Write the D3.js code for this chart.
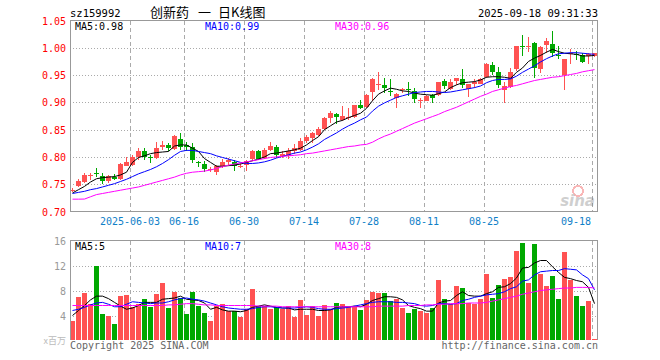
<!DOCTYPE html>
<html>
<head>
<meta charset="utf-8">
<script src="https://cdn.jsdelivr.net/npm/d3@7"></script>
<style>
  body { margin: 0; background: #fff; }
  svg { display: block; }
</style>
</head>
<body>
<div id="chart"></div>
<script>
// daily candles, 2025-05-19 .. 2025-09-18 (88 trading days)
var open  = [.739,.746,.755,.765,.770,.765,.755,.764,.760,.784,.786,.800,.811,.800,.798,.818,.822,.816,.833,.821,
             .818,.790,.787,.777,.773,.783,.791,.791,.783,.784,.795,.810,.798,.813,.818,.803,.801,.810,.813,.828,
             .833,.841,.851,.872,.879,.868,.871,.873,.895,.8915,.920,.933,.931,.921,.909,.922,.924,.920,.904,.904,
             .9137,.9125,.9394,.9247,.9406,.943,.9235,.933,.9345,.947,.969,.955,.9223,.927,.960,1.004,1.002,1.009,.9614,1.0043,
             1.0067,.987,.9504,.990,.989,.986,.984,.985];
var high  = [.743,.760,.771,.770,.780,.770,.767,.769,.789,.800,.803,.816,.816,.804,.828,.830,.825,.840,.843,.828,
             .825,.792,.792,.781,.786,.796,.7985,.794,.789,.794,.812,.812,.817,.827,.822,.810,.816,.824,.835,.840,
             .846,.854,.873,.884,.8805,.894,.889,.896,.905,.915,.9455,.955,.9455,.943,.918,.927,.937,.9265,.9076,.914,
             .916,.938,.943,.942,.9455,.9614,.9345,.943,.945,.9725,.974,.964,.937,.9627,1.003,1.0226,1.019,1.0104,1.003,1.018,
             1.030,1.004,.9798,.997,.9934,.990,.990,.991];
var low   = [.736,.744,.753,.758,.764,.751,.753,.757,.757,.783,.784,.795,.794,.789,.796,.812,.810,.813,.813,.810,
             .789,.781,.772,.773,.767,.779,.785,.775,.779,.775,.793,.794,.796,.811,.7985,.798,.796,.806,.811,.825,
             .8255,.838,.849,.863,.860,.866,.868,.871,.887,.889,.9025,.9234,.917,.911,.890,.918,.911,.899,.889,.902,
             .898,.911,.925,.922,.931,.926,.909,.926,.933,.944,.9504,.927,.898,.926,.9566,.9847,.992,.944,.953,.991,
             .9822,.980,.9235,.970,.977,.9718,.971,.984];
var close = [.740,.756,.767,.766,.769,.755,.765,.760,.787,.791,.800,.811,.800,.799,.817,.822,.816,.839,.819,.818,
             .794,.789,.777,.778,.784,.791,.795,.783,.784,.792,.810,.796,.813,.8205,.803,.806,.810,.816,.830,.836,
             .843,.852,.872,.8805,.874,.8756,.873,.895,.890,.9135,.943,.934,.925,.920,.916,.924,.923,.905,.905,.9125,
             .9076,.937,.9296,.938,.9455,.932,.933,.937,.943,.971,.9566,.932,.9296,.955,1.003,1.002,1.004,.9627,1.0018,1.0116,
             .9908,.986,.9798,.991,.988,.9724,.988,.990];
var ma5   = [.734,.740,.746,.754,.760,.762,.763,.764,.767,.772,.790,.799,.802,.806,.808,.809,.810,.820,.822,.822,
             .816,.810,.797,.790,.783,.783,.784,.785,.787,.790,.793,.796,.800,.806,.807,.809,.811,.813,.816,.822,
             .830,.837,.850,.857,.864,.867,.872,.876,.880,.889,.903,.915,.921,.926,.924,.921,.920,.917,.915,.914,
             .913,.916,.919,.927,.932,.936,.937,.938,.941,.946,.947,.947,.946,.944,.955,.963,.975,.981,.986,.992,
             .997,.993,.990,.989,.988,.985,.985,.986];
var ma10  = [.733,.735,.737,.740,.742,.745,.748,.751,.755,.759,.764,.769,.773,.777,.782,.788,.795,.803,.810,.812,
             .812,.810,.808,.806,.802,.799,.796,.793,.790,.788,.788,.789,.791,.794,.798,.801,.804,.807,.809,.813,
             .818,.824,.832,.838,.844,.851,.857,.862,.868,.873,.884,.893,.899,.904,.909,.912,.915,.918,.919,.920,
             .920,.919,.918,.919,.921,.923,.925,.927,.930,.936,.940,.942,.942,.943,.948,.955,.961,.967,.974,.980,
             .985,.989,.990,.991,.991,.990,.989,.988];
var ma30  = [.7226,.7226,.7228,.727,.731,.733,.735,.737,.739,.741,.743,.745,.748,.751,.754,.757,.760,.763,.767,.770,
             .772,.773,.774,.776,.779,.782,.785,.787,.789,.791,.793,.795,.797,.799,.800,.801,.802,.803,.804,.806,
             .807,.809,.811,.813,.815,.817,.819,.820,.822,.823,.827,.833,.838,.842,.847,.852,.857,.862,.866,.870,
             .874,.878,.883,.887,.891,.896,.901,.906,.911,.915,.920,.923,.926,.929,.931,.934,.937,.940,.942,.944,
             .946,.947,.949,.951,.953,.956,.958,.960];

// volume, millions of shares
var volume = [3.2,6.9,7.6,5.9,11.9,4.2,4.0,2.6,7.1,7.3,5.3,5.9,6.6,5.3,7.4,9.2,5.2,7.7,6.8,4.3,
              7.7,5.5,4.4,3.1,5.6,5.8,4.7,4.8,3.8,5.1,8.3,5.6,5.6,5.0,5.3,5.0,5.6,3.7,6.5,4.1,
              5.6,4.0,5.7,5.0,6.0,5.8,5.4,5.4,4.9,6.5,7.8,7.6,7.6,6.3,6.6,5.2,4.35,5.0,4.8,4.35,
              5.2,9.7,6.6,5.8,8.7,8.4,6.0,5.9,6.6,10.6,6.8,8.9,9.8,10.15,14.3,15.6,9.2,15.5,10.6,8.7,
              10.3,6.6,14.2,9.7,7.1,5.5,6.4,0.3];
var vma5  = [4.0,4.8,5.6,6.5,7.1,7.1,6.7,6.1,5.5,5.0,5.2,5.6,6.1,6.1,6.1,6.6,6.7,6.8,7.1,6.6,
             6.5,6.4,6.0,5.0,5.3,4.9,4.7,4.7,4.6,4.8,5.3,5.5,5.7,5.5,5.3,5.2,5.2,4.9,5.0,5.0,
             5.0,4.8,4.8,4.9,5.3,5.4,5.4,5.5,5.4,5.8,6.4,6.7,7.0,7.0,6.9,6.5,5.6,5.3,5.1,4.7,
             4.7,6.0,6.3,6.4,7.2,7.8,7.2,7.1,7.1,7.5,7.8,8.5,8.6,9.1,10.0,11.6,11.7,12.4,12.8,12.8,
             11.8,10.9,10.1,9.9,9.6,9.4,8.5,5.9];
var vma10 = [4.8,5.0,5.3,5.7,6.0,6.1,5.8,5.4,5.4,5.8,6.2,6.1,6.0,5.9,6.0,6.0,6.2,6.5,6.7,6.8,
             6.6,6.5,6.3,6.0,5.7,5.4,5.2,5.1,5.0,5.0,5.1,5.3,5.4,5.4,5.3,5.2,5.2,5.2,5.3,5.4,
             5.3,5.1,5.0,5.0,5.1,5.2,5.3,5.5,5.7,5.9,6.1,6.2,6.2,6.2,6.1,6.1,6.0,5.9,5.6,5.5,
             5.6,5.9,5.9,5.8,5.9,6.4,6.6,6.9,7.1,7.3,7.4,7.5,7.8,8.3,8.6,9.5,9.7,10.5,11.0,11.1,
             11.2,11.2,11.5,11.4,11.3,10.5,9.9,8.1];
var vma30 = [5.6,5.6,5.6,5.6,5.6,5.6,5.6,5.6,5.6,5.6,5.6,5.6,5.6,5.6,5.6,5.6,5.7,5.7,5.8,5.9,
             5.9,5.8,5.7,5.7,5.6,5.6,5.6,5.6,5.6,5.6,5.6,5.5,5.5,5.5,5.5,5.4,5.4,5.4,5.4,5.4,
             5.4,5.4,5.4,5.4,5.4,5.4,5.4,5.4,5.4,5.4,5.4,5.5,5.5,5.5,5.5,5.5,5.6,5.6,5.6,5.7,
             5.7,5.8,5.8,5.9,5.9,5.9,6.0,6.0,6.0,6.1,6.3,6.5,6.7,6.9,7.1,7.4,7.6,7.8,8.0,8.1,
             8.2,8.3,8.4,8.4,8.5,8.5,8.5,8.4];

var tickIdx    = [10, 19, 29, 39, 49, 59, 69, 87];
var tickLabels = ["2025-06-03", "06-16", "06-30", "07-14", "07-28", "08-11", "08-25", "09-18"];
var priceTicks = [0.70, 0.75, 0.80, 0.85, 0.90, 0.95, 1.00, 1.05];
var volTicks   = [4, 8, 12, 16];
var priceMaLabels = ["MA5:0.98", "MA10:0.99", "MA30:0.96"];
var volMaLabels   = ["MA5:5", "MA10:7", "MA30:8"];

var W = 660, H = 360;
var L = 70, R = 598;
var mono = "'DejaVu Sans Mono', monospace";
var upC = "#ff5252", downC = "#00a800", gridC = "#aaa";
var maColors = ["#000", "#0000ff", "#ff00ff"];

var svg = d3.select("#chart").append("svg")
  .attr("width", W).attr("height", H)
  .attr("shape-rendering", "crispEdges");

var x = d3.scaleBand().domain(d3.range(close.length)).range([L, R]).padding(0);
var y = d3.scaleLinear().domain([0.70, 1.05]).range([211.5, 20.5]);
var yv = d3.scaleLinear().domain([0, 16]).range([340.5, 240.5]);
var px = function(v) { return Math.round(v) + 0.5; };
var cx = function(i) { return Math.round(x(i)) + 2.5; };

// header
svg.append("text").attr("x", 70).attr("y", 17).text("sz159992")
  .style("font-family", mono).style("font-size", "10.5px").attr("fill", "#000");
var title = svg.append("text").attr("y", 17)
  .style("font-family", "'Noto Sans CJK SC'").style("font-size", "13px").attr("fill", "#000");
title.append("tspan").attr("x", 150).text("创新药");
title.append("tspan").attr("x", 198).text("一");
title.append("tspan").attr("x", 218).text("日K线图");
svg.append("text").attr("x", 598).attr("y", 17).attr("text-anchor", "end")
  .text("2025-09-18 09:31:33")
  .style("font-family", mono).style("font-size", "10.5px").attr("fill", "#000");

// price grid
svg.append("g").selectAll("line").data(priceTicks.slice(1, -1)).join("line")
  .attr("x1", L).attr("x2", R).attr("y1", d => px(y(d))).attr("y2", d => px(y(d)))
  .attr("stroke", gridC).attr("stroke-dasharray", "1,2");
svg.append("g").selectAll("line").data(tickIdx).join("line")
  .attr("x1", d => Math.round(x(d)) + 0.5).attr("x2", d => Math.round(x(d)) + 0.5)
  .attr("y1", 21).attr("y2", 211)
  .attr("stroke", gridC).attr("stroke-dasharray", "4,3");

// volume grid
svg.append("g").selectAll("line").data(volTicks.slice(0, -1)).join("line")
  .attr("x1", L).attr("x2", R).attr("y1", d => px(yv(d))).attr("y2", d => px(yv(d)))
  .attr("stroke", gridC).attr("stroke-dasharray", "1,2");
svg.append("g").selectAll("line").data(tickIdx).join("line")
  .attr("x1", d => Math.round(x(d)) + 0.5).attr("x2", d => Math.round(x(d)) + 0.5)
  .attr("y1", 241).attr("y2", 340)
  .attr("stroke", gridC).attr("stroke-dasharray", "4,3");

// sina watermark
var wm = svg.append("g").attr("opacity", 0.35);
wm.append("circle").attr("cx", 578).attr("cy", 191).attr("r", 5)
  .attr("fill", "none").attr("stroke", "#e33").attr("stroke-width", 2);
wm.append("text").attr("x", 595).attr("y", 206).attr("text-anchor", "end").text("sina")
  .style("font-family", "'DejaVu Sans'").style("font-size", "15px")
  .style("font-weight", "bold").style("font-style", "italic").attr("fill", "#777");

// candles
var candles = svg.append("g").selectAll("g").data(d3.range(close.length)).join("g");
candles.append("line")
  .attr("x1", cx).attr("x2", cx)
  .attr("y1", i => y(high[i])).attr("y2", i => y(low[i]))
  .attr("stroke", i => close[i] >= open[i] ? upC : downC);
candles.append("rect")
  .attr("x", i => Math.round(x(i)))
  .attr("width", x.bandwidth() - 1)
  .attr("y", i => Math.round(y(Math.max(open[i], close[i]))))
  .attr("height", i => Math.max(1, Math.round(Math.abs(y(open[i]) - y(close[i])))))
  .attr("fill", i => close[i] >= open[i] ? upC : downC);

// volume bars
svg.append("g").selectAll("rect").data(volume).join("rect")
  .attr("x", (d, i) => Math.round(x(i)))
  .attr("width", x.bandwidth() - 1)
  .attr("y", d => Math.round(yv(d)))
  .attr("height", d => 340 - Math.round(yv(d)))
  .attr("fill", (d, i) => close[i] >= open[i] ? upC : downC);

// moving averages
var lineP = d3.line().x((d, i) => Math.round(x(i)) + 2.5).y(d => y(d));
var lineV = d3.line().x((d, i) => Math.round(x(i)) + 2.5).y(d => yv(d));
[ma5, ma10, ma30].forEach(function(s, k) {
  svg.append("path").attr("d", lineP(s)).attr("fill", "none")
    .attr("stroke", maColors[k]).attr("stroke-width", 1).attr("shape-rendering", "auto");
});
[vma5, vma10, vma30].forEach(function(s, k) {
  svg.append("path").attr("d", lineV(s)).attr("fill", "none")
    .attr("stroke", maColors[k]).attr("stroke-width", 1).attr("shape-rendering", "auto");
});

// frames
svg.append("rect").attr("x", 70.5).attr("y", 20.5).attr("width", 527).attr("height", 191)
  .attr("fill", "none").attr("stroke", "#999");
svg.append("path").attr("d", "M70.5,340V240.5H597.5V340")
  .attr("fill", "none").attr("stroke", "#999");

// price axis labels
svg.append("g").selectAll("text").data(priceTicks).join("text")
  .attr("x", 66).attr("y", d => y(d) + 4).attr("text-anchor", "end")
  .text(d => d3.format(".2f")(d))
  .style("font-family", mono).style("font-size", "10px").attr("fill", "#f00");
// date labels
svg.append("g").selectAll("text").data(tickIdx).join("text")
  .attr("x", (d, k) => k === tickIdx.length - 1 ? Math.round(x(d)) - 1 : Math.round(x(d)))
  .attr("y", 225)
  .attr("text-anchor", (d, k) => k === tickIdx.length - 1 ? "end" : "middle")
  .text((d, k) => tickLabels[k])
  .style("font-family", mono).style("font-size", "10px").attr("fill", "#1080c8");
// volume labels
svg.append("g").selectAll("text").data(volTicks).join("text")
  .attr("x", 66).attr("y", d => yv(d) + 4).attr("text-anchor", "end")
  .text(d => d)
  .style("font-family", mono).style("font-size", "10px").attr("fill", "#999");
svg.append("text").attr("x", 66).attr("y", 344).attr("text-anchor", "end").text("x百万")
  .style("font-family", "'Noto Sans CJK SC'").style("font-size", "9px").attr("fill", "#bbb");

// MA legends
var legX = [75, 205, 335];
priceMaLabels.forEach(function(t, k) {
  svg.append("text").attr("x", legX[k]).attr("y", 29.5).text(t)
    .style("font-family", mono).style("font-size", "10px").attr("fill", maColors[k]);
});
volMaLabels.forEach(function(t, k) {
  svg.append("text").attr("x", legX[k]).attr("y", 250).text(t)
    .style("font-family", mono).style("font-size", "10px").attr("fill", maColors[k]);
});

// footer
svg.append("text").attr("x", 70).attr("y", 349).text("Copyright 2025 SINA.COM")
  .style("font-family", mono).style("font-size", "10px").attr("fill", "#666");
svg.append("text").attr("x", 598).attr("y", 349).attr("text-anchor", "end")
  .text("http://finance.sina.com.cn")
  .style("font-family", mono).style("font-size", "10px").attr("fill", "#666");
</script>
</body>
</html>
